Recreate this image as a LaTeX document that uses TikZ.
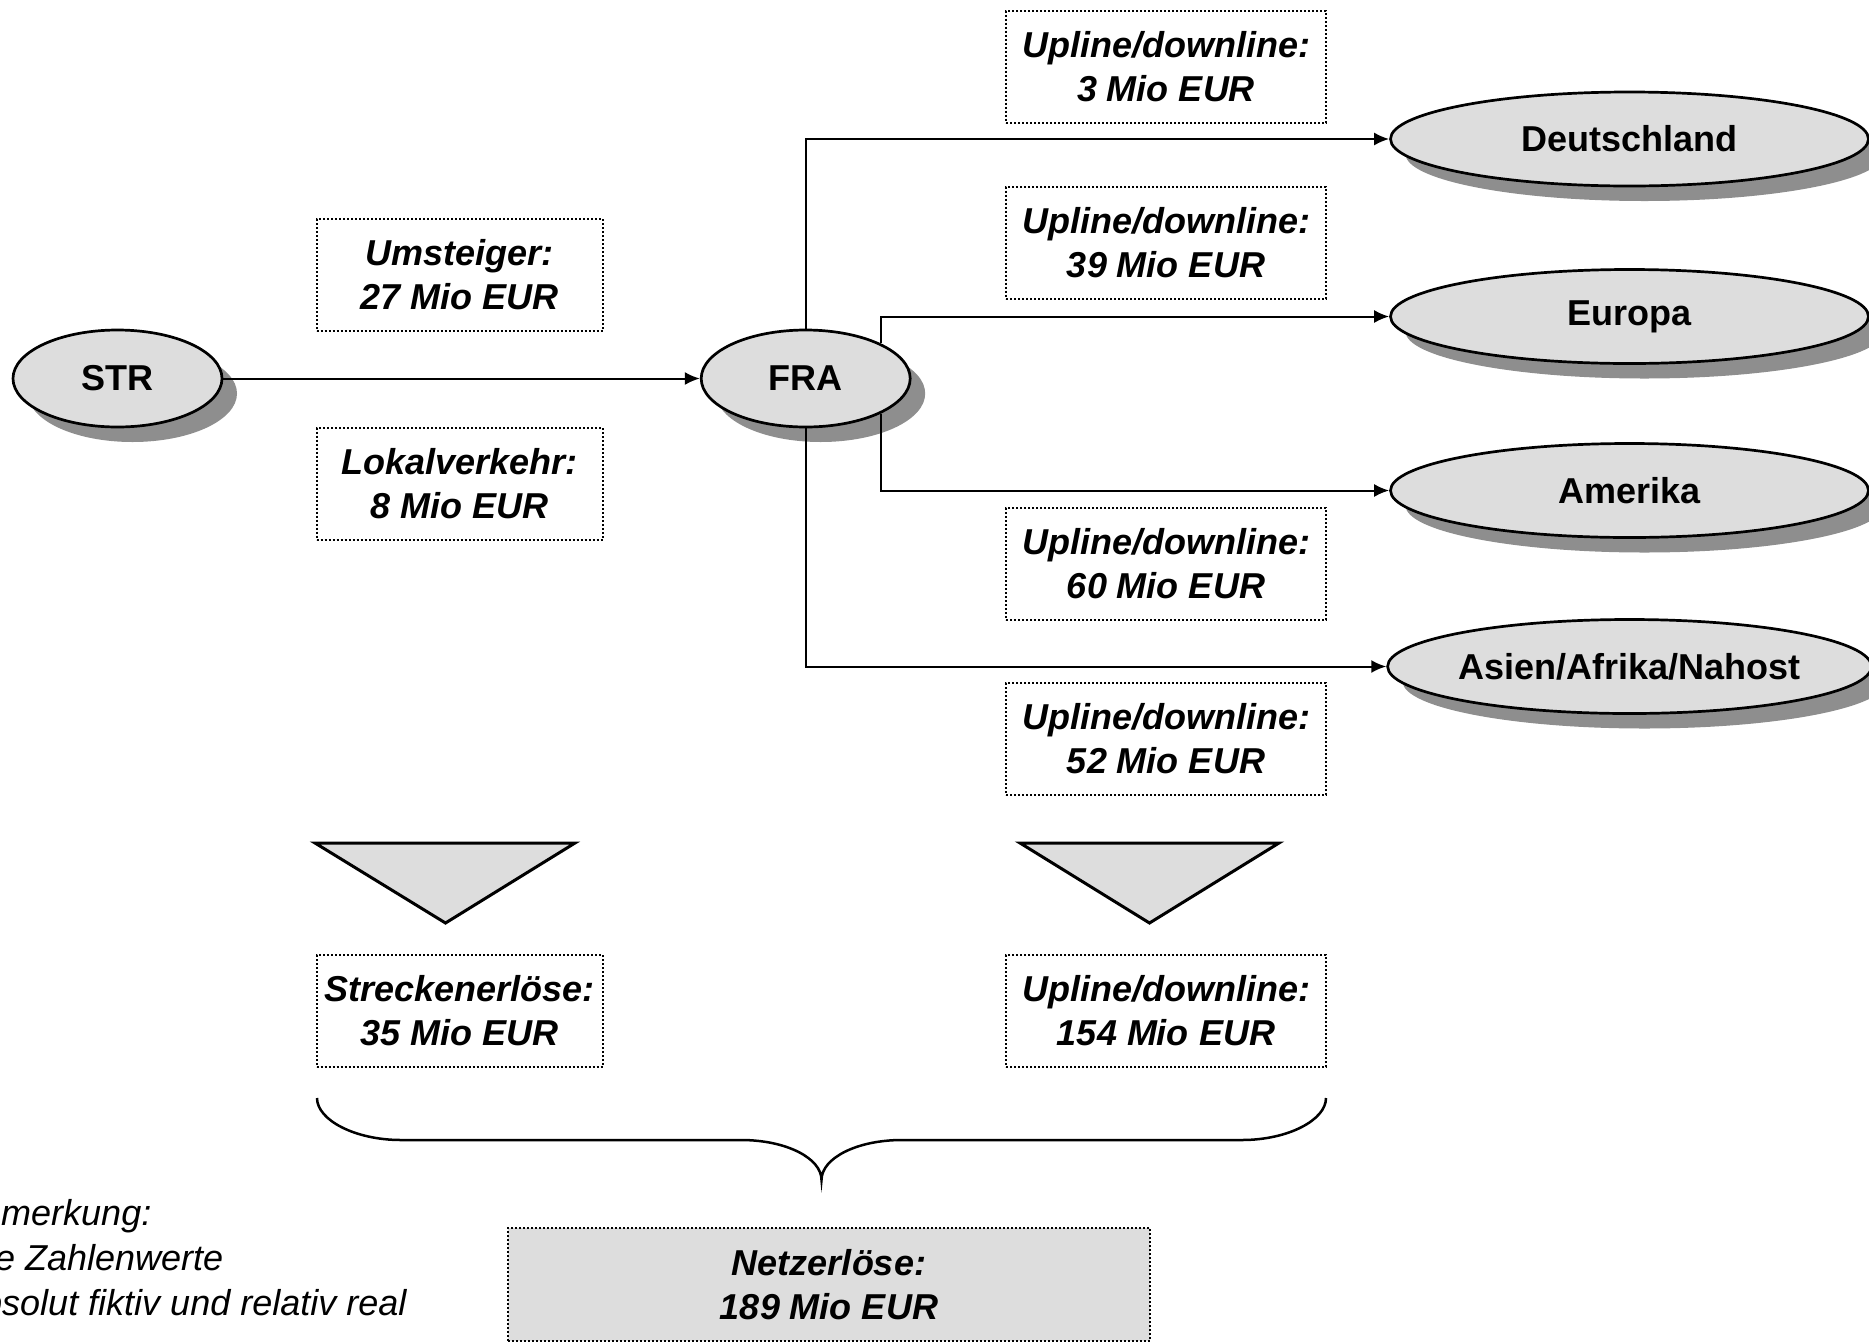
\documentclass[tikz,border=0pt]{standalone}
\usepackage{fontspec}
\setmainfont{Liberation Sans}
\usetikzlibrary{shapes.geometric,arrows.meta}

\definecolor{ellfill}{HTML}{DDDDDD}
\definecolor{shadowgray}{HTML}{8E8E8E}

\tikzset{
  region/.style={ellipse, draw, line width=2.7pt, fill=ellfill, inner sep=0pt,
    font=\fontsize{36}{40}\selectfont\bfseries,
    preaction={fill=shadowgray, draw=none, transform canvas={shift={(15pt,-15pt)}}}},
  smallreg/.style={region, minimum width=209pt, minimum height=97pt},
  bigreg/.style={region, minimum width=478pt, minimum height=94pt},
  valbox/.style={draw, line width=2pt, dash pattern=on 2pt off 2pt, inner sep=0pt,
    align=center, font=\fontsize{36}{44}\selectfont\bfseries\itshape},
  rbox/.style={valbox, minimum width=320pt, minimum height=112pt},
  lbox/.style={valbox, minimum width=286pt, minimum height=112pt},
  flow/.style={line width=2pt, -{Latex[length=15pt,width=13pt]}},
  funnel/.style={draw, line width=3pt, fill=ellfill, line join=miter},
  note/.style={anchor=base west, inner sep=0pt, font=\fontsize{36}{45}\selectfont\itshape},
}

\begin{document}
\begin{tikzpicture}[x=1pt, y=-1pt]
\useasboundingbox (0,0) rectangle (1869,1342);
\clip (0,0) rectangle (1869,1342);

% airports and destination regions
\node[smallreg] (str) at (117.5,378.5) {STR};
\node[smallreg] (fra) at (805.7,378.5) {FRA};
\node[bigreg] (de) at (1629.5,139) {Deutschland};
\node[bigreg] (eu) at (1629.5,316.5) {Europa};
\node[bigreg] (am) at (1629.5,490.5) {Amerika};
\node[bigreg] (as) at (1629.5,666.5) {Asien/Afrika/Nahost};

% traffic flows
\draw[flow] (str) -- (fra);
\draw[flow] (fra.north) |- (de.west);
\draw[flow] (fra.north east) |- (eu.west);
\draw[flow] (fra.south east) |- (am.west);
\draw[flow] (fra.south) |- (as.west);

% revenue labels
\node[lbox] (umst) at (459.5,275) {Umsteiger:\\27 Mio EUR};
\node[lbox] (lokal) at (459.5,483.5) {Lokalverkehr:\\8 Mio EUR};
\node[rbox] (ud1) at (1166,66.5) {Upline/downline:\\3 Mio EUR};
\node[rbox] (ud2) at (1166,242.5) {Upline/downline:\\39 Mio EUR};
\node[rbox] (ud3) at (1166,564) {Upline/downline:\\60 Mio EUR};
\node[rbox] (ud4) at (1166,739) {Upline/downline:\\52 Mio EUR};

% aggregation funnels
\draw[funnel] (315,843) -- (575,843) -- (445.5,923) -- cycle;
\draw[funnel] (1020,843) -- (1279,843) -- (1149.5,923) -- cycle;

\node[lbox] (strecke) at (459.5,1011) {Streckenerlöse:\\35 Mio EUR};
\node[rbox] (udsum) at (1166,1011) {Upline/downline:\\154 Mio EUR};

% brace joining both sums
\draw[line width=2.5pt]
  (317,1098) .. controls (317,1120) and (355,1140) .. (401,1140)
  -- (741,1140) .. controls (786,1140) and (821.5,1158) .. (821.5,1180)
  .. controls (821.5,1158) and (857,1140) .. (902,1140)
  -- (1242,1140) .. controls (1288,1140) and (1326,1120) .. (1326,1098);

\node[valbox, fill=ellfill, minimum width=642pt, minimum height=113pt] (netz) at (829,1284.5) {Netzerlöse:\\189 Mio EUR};

% remark, running off the left edge
\node[note] (n1) at (-43,1225) {Anmerkung:};
\node[note] (n2) at (-39,1270) {Die Zahlenwerte};
\node[note] (n3) at (-38,1315) {absolut fiktiv und relativ real};
\end{tikzpicture}
\end{document}
